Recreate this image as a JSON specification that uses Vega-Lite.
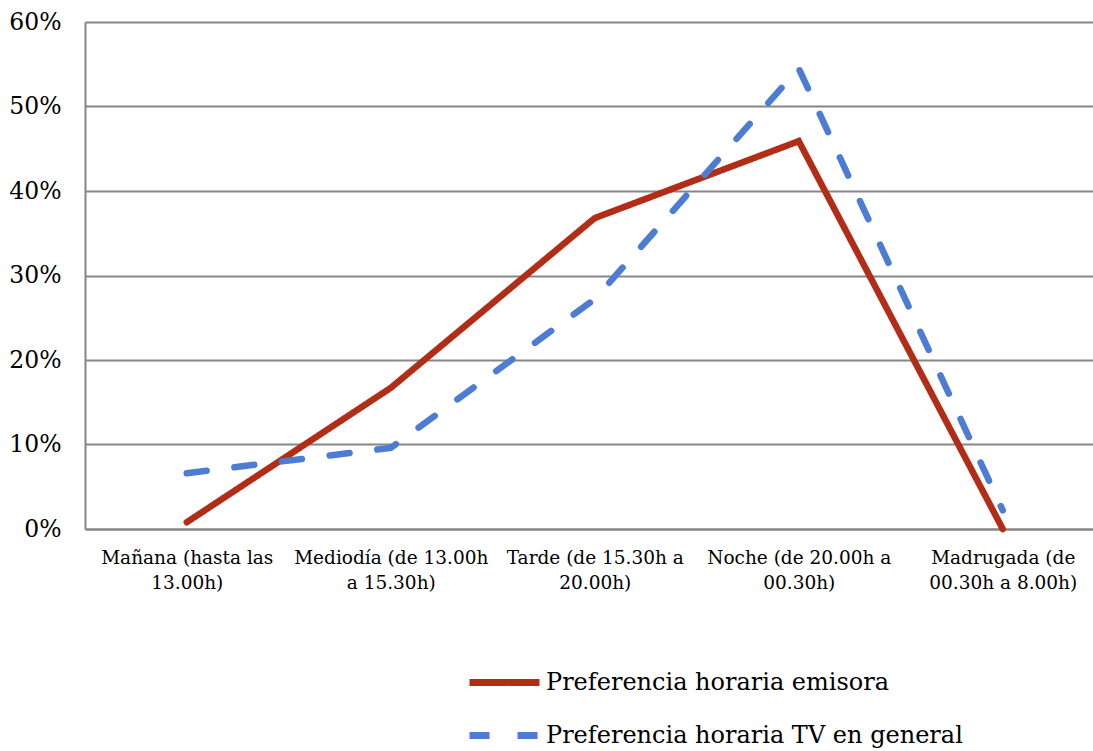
{
  "$schema": "https://vega.github.io/schema/vega-lite/v6.json",
  "width": 1008,
  "height": 507,
  "autosize": {"type": "none"},
  "padding": {"left": 85, "top": 22, "right": 0, "bottom": 222},
  "background": "white",
  "data": {
    "values": [
      {"franja": "Mañana (hasta las\n13.00h)", "serie": "Preferencia horaria emisora", "valor": 0.008},
      {"franja": "Mediodía (de 13.00h\na 15.30h)", "serie": "Preferencia horaria emisora", "valor": 0.167},
      {"franja": "Tarde (de 15.30h a\n20.00h)", "serie": "Preferencia horaria emisora", "valor": 0.368},
      {"franja": "Noche (de 20.00h a\n00.30h)", "serie": "Preferencia horaria emisora", "valor": 0.459},
      {"franja": "Madrugada (de\n00.30h a 8.00h)", "serie": "Preferencia horaria emisora", "valor": 0.0},
      {"franja": "Mañana (hasta las\n13.00h)", "serie": "Preferencia horaria TV en general", "valor": 0.066},
      {"franja": "Mediodía (de 13.00h\na 15.30h)", "serie": "Preferencia horaria TV en general", "valor": 0.096},
      {"franja": "Tarde (de 15.30h a\n20.00h)", "serie": "Preferencia horaria TV en general", "valor": 0.272},
      {"franja": "Noche (de 20.00h a\n00.30h)", "serie": "Preferencia horaria TV en general", "valor": 0.545},
      {"franja": "Madrugada (de\n00.30h a 8.00h)", "serie": "Preferencia horaria TV en general", "valor": 0.022}
    ]
  },
  "mark": {"type": "line", "strokeWidth": 6.5, "strokeCap": "round", "strokeJoin": "miter"},
  "encoding": {
    "x": {
      "field": "franja",
      "type": "nominal",
      "sort": null,
      "scale": {"type": "point", "padding": 0.4706, "align": 0.53},
      "axis": {
        "title": null,
        "labelAngle": 0,
        "labelExpr": "split(datum.label, '\\n')",
        "labelFont": "DejaVu Serif",
        "labelFontSize": 18.5,
        "labelColor": "black",
        "labelLineHeight": 25,
        "labelPadding": 19,
        "labelBaseline": "top",
        "labelLimit": 400,
        "ticks": false,
        "grid": false,
        "domainColor": "#868686",
        "domainWidth": 2
      }
    },
    "y": {
      "field": "valor",
      "type": "quantitative",
      "scale": {"domain": [0, 0.6], "nice": false},
      "axis": {
        "title": null,
        "values": [0, 0.1, 0.2, 0.3, 0.4, 0.5, 0.6],
        "format": ".0%",
        "labelFont": "DejaVu Serif",
        "labelFontSize": 23.5,
        "labelColor": "black",
        "labelPadding": 24,
        "ticks": false,
        "gridColor": "#868686",
        "gridWidth": 2,
        "gridOpacity": 1,
        "domainColor": "#868686",
        "domainWidth": 2
      }
    },
    "color": {
      "field": "serie",
      "type": "nominal",
      "scale": {
        "domain": ["Preferencia horaria emisora", "Preferencia horaria TV en general"],
        "range": ["#B22D17", "#4C7DD3"]
      },
      "legend": {
        "title": null,
        "orient": "none",
        "legendX": 381,
        "legendY": 622,
        "symbolType": "stroke",
        "symbolSize": 4900,
        "symbolStrokeWidth": 7,
        "labelFont": "DejaVu Serif",
        "labelFontSize": 24,
        "labelColor": "black",
        "labelOffset": 3,
        "rowPadding": -30,
        "labelLimit": 600
      }
    },
    "strokeDash": {
      "field": "serie",
      "type": "nominal",
      "scale": {
        "domain": ["Preferencia horaria emisora", "Preferencia horaria TV en general"],
        "range": [[1, 0], [20, 28]]
      },
      "legend": null
    }
  },
  "config": {"view": {"stroke": null}}
}
